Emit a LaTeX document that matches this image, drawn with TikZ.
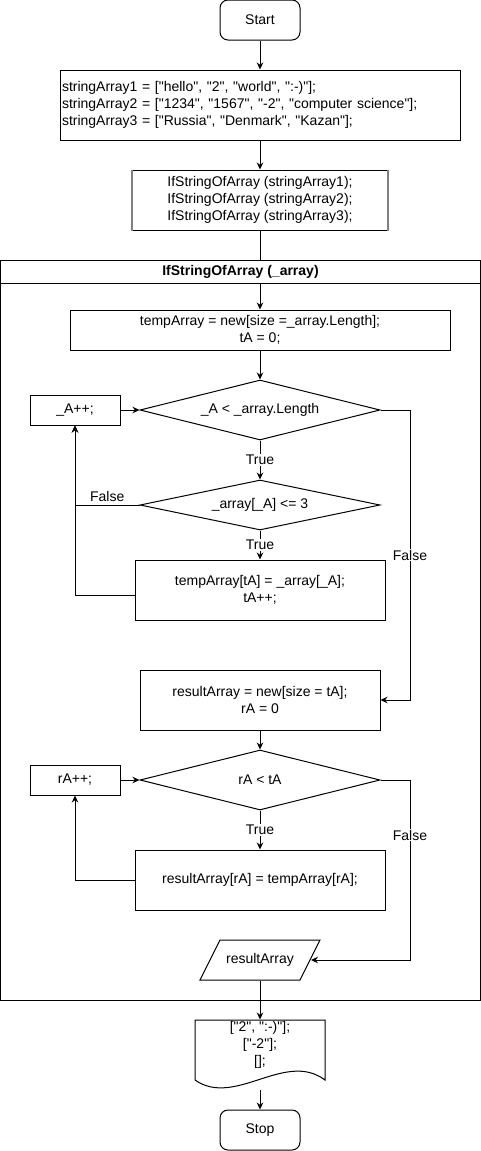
\documentclass[tikz,border=0pt]{standalone}
\usepackage{fontspec}
\setmainfont{Liberation Sans}[Ligatures=TeXOff]
\usetikzlibrary{arrows.meta,shapes.geometric}
\newcommand\myfs{\fontsize{14}{17}\selectfont}
\begin{document}
\begin{tikzpicture}[x=1pt,y=-1pt,line width=1pt,
  box/.style={draw,rectangle,inner sep=0pt,align=center,font=\myfs},
  term/.style={box,rounded corners=8pt},
  dia/.style={draw,diamond,aspect=4,inner sep=0pt,align=center,font=\myfs},
  arr/.style={-{Stealth[length=7pt,width=6.5pt]}},
  lbl/.style={fill=white,inner sep=1pt,font=\myfs},
  txt/.style={inner sep=0pt,align=center,font=\myfs}]
\useasboundingbox (0,0) rectangle (481,1151);
\node[term,minimum width=80,minimum height=40] (start) at (260,20) {Start};
\node[box,minimum width=400,minimum height=70,text width=396,align=left] (box1) at (260,105)
  {stringArray1 = ["hello", "2", "world", ":-)"];\\
   stringArray2 = ["1234", "1567", "-2", "computer science"];\\
   stringArray3 = ["Russia", "Denmark", "Kazan"];};
\node[box,minimum width=255,minimum height=60] (box2) at (260,200)
  {IfStringOfArray (stringArray1);\\IfStringOfArray (stringArray2);\\IfStringOfArray (stringArray3);};
\draw[gray,line width=1.5pt] (box2.north west) -- (box2.south west);
\draw[gray,line width=1.5pt] (box2.north east) -- (box2.south east);
\node[draw,rectangle,minimum width=480,minimum height=740,anchor=north west,inner sep=0pt] (func) at (0,260) {};
\node[draw,rectangle,minimum width=480,minimum height=23,anchor=north west,inner sep=0pt,font=\myfs\bfseries] (head) at (0,260) {IfStringOfArray (\_array)};
\node[box,minimum width=380,minimum height=40] (box3) at (260,330) {tempArray = new[size =\_array.Length];\\tA = 0;};
\node[dia,minimum width=240,minimum height=60] (d1) at (260,410) {\_A < \_array.Length};
\node[box,minimum width=90,minimum height=30] (aplus) at (75,410) {\_A++;};
\node[dia,minimum width=240,minimum height=50] (d2) at (260,505) {\_array[\_A] <= 3};
\node[box,minimum width=250,minimum height=60] (box4) at (260,590) {tempArray[tA] = \_array[\_A];\\tA++;};
\node[box,minimum width=240,minimum height=60] (box5) at (260,700) {resultArray = new[size = tA];\\rA = 0};
\node[dia,minimum width=240,minimum height=60] (d3) at (260,780) {rA < tA};
\node[box,minimum width=90,minimum height=30] (rplus) at (75,780) {rA++;};
\node[box,minimum width=250,minimum height=60] (box6) at (260,880) {resultArray[rA] = tempArray[rA];};
\draw (220,940) -- (320,940) -- (300,980) -- (200,980) -- cycle;
\node[txt,minimum width=100,minimum height=40] (para) at (260,960) {resultArray};
\coordinate (paraR) at (311,960);
\draw (195,1080) -- (195,1020) -- (325,1020) -- (325,1080) .. controls (285,1050) and (235,1108) .. (195,1080);
\node[txt,minimum width=130,minimum height=50] (doc) at (260,1045) {{[}"2", ":-)"];\\{[}"-2"];\\{[}];};
\coordinate (docB) at (260,1090);
\node[term,minimum width=80,minimum height=40] (stop) at (260,1130) {Stop};
\coordinate (r1) at (410,410);
\coordinate (r2) at (410,780);
% connectors
\draw[arr] (start) -- (box1);
\draw[arr] (box1) -- (box2);
\draw (box2.south) -- (box2.south |- head.north);
\draw[arr] (head.south -| box3.north) -- (box3);
\draw[arr] (box3) -- (d1);
\draw[arr] (aplus) -- (d1);
\draw[arr] (d1) -- node[lbl]{True} (d2);
\draw[arr] (d2) -- node[lbl]{True} (box4);
\draw[arr] (d2.west) -- node[txt,above=3pt]{False} (d2.west -| aplus.south) -- (aplus.south);
\draw[arr] ([yshift=-5pt]box4.west) -| (aplus.south);
\draw[arr] (d1.east) -- (r1) |- node[lbl,pos=0.25]{False} (box5.east);
\draw[arr] (box5) -- (d3);
\draw[arr] (rplus) -- (d3);
\draw[arr] (d3) -- node[lbl]{True} (box6);
\draw[arr] (box6.west) -| (rplus.south);
\draw[arr] (d3.east) -- (r2) |- node[lbl,pos=0.153]{False} (paraR);
\draw[arr] (para) -- (doc);
\draw[arr] (docB) -- (stop);
\end{tikzpicture}
\end{document}
